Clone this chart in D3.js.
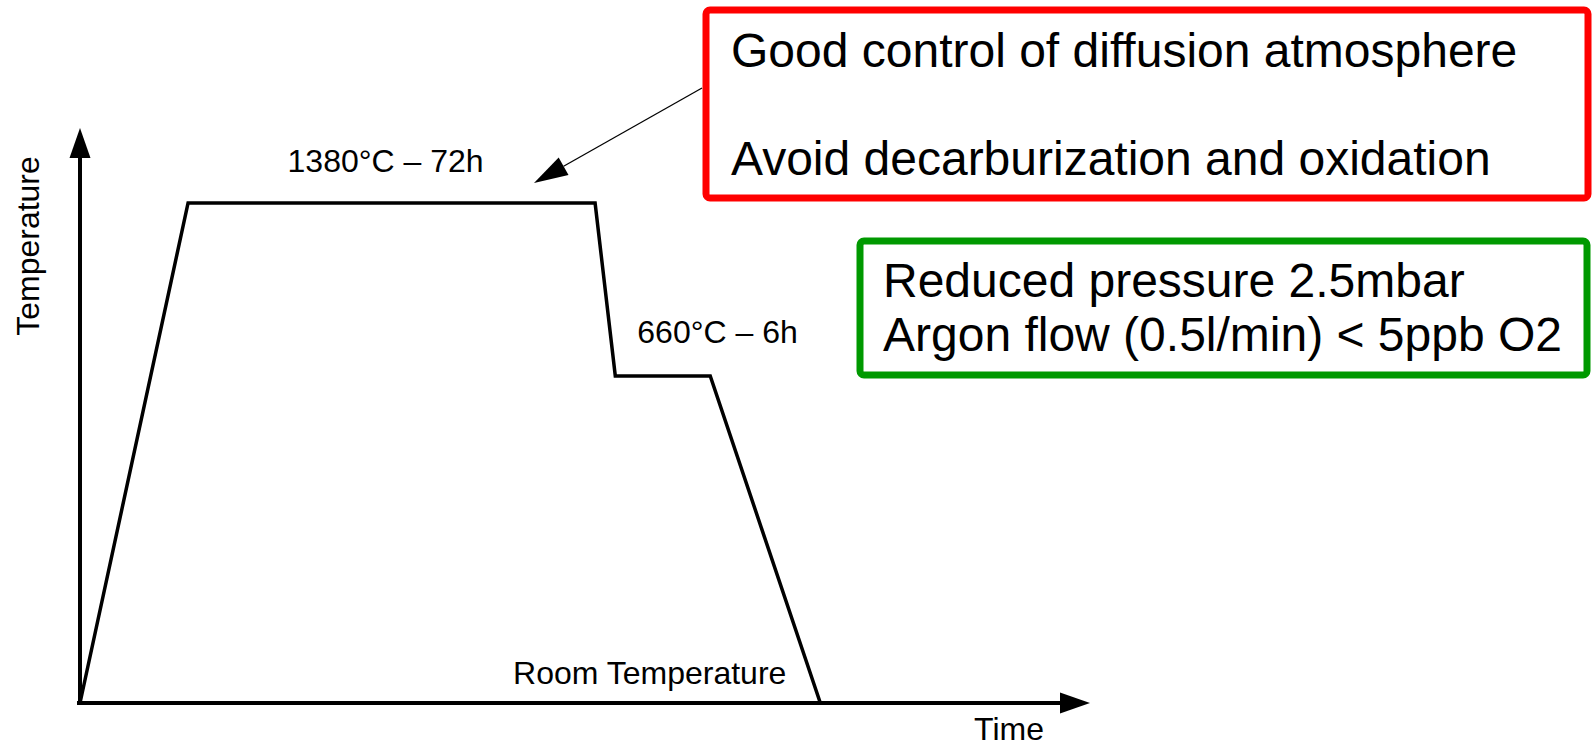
<!DOCTYPE html>
<html>
<head>
<meta charset="utf-8">
<script src="https://cdn.jsdelivr.net/npm/d3@7"></script>
<style>
  body { margin: 0; background: #fff; }
  text { font-family: "Liberation Sans", Arial, sans-serif; fill: #000; }
</style>
</head>
<body>
<div id="chart"></div>
<script>
// heat treatment profile: time is schematic (% of the axis), temperature in °C
const profileTime = [0, 10.7, 51.0, 53.0, 62.4, 73.3];
const profileTemp = [20, 1380, 1380, 660, 660, 20];
const stepLabels = ["1380°C – 72h", "660°C – 6h", "Room Temperature"];
const axisLabels = ["Time", "Temperature"];
const redNotes = ["Good control of diffusion atmosphere", "Avoid decarburization and oxidation"];
const greenNotes = ["Reduced pressure 2.5mbar", "Argon flow (0.5l/min) < 5ppb O2"];

const width = 1596, height = 743;

const svg = d3.select("#chart")
  .append("svg")
    .attr("width", width)
    .attr("height", height);

// schematic scales (temperature axis is not to scale, hence the piecewise domain)
const x = d3.scaleLinear()
  .domain([0, 100])
  .range([80, 1090]);
const y = d3.scaleLinear()
  .domain([20, 660, 1380, 1600])
  .range([703, 376, 203, 128]);

const head = 30, half = 10.5;

// X axis with arrow
svg.append("line")
  .attr("x1", x(0) - 3).attr("y1", y(20))
  .attr("x2", x(100) - head + 2).attr("y2", y(20))
  .attr("stroke", "#000").attr("stroke-width", 4);
svg.append("path")
  .attr("d", `M${x(100)},${y(20)} L${x(100) - head},${y(20) - half} L${x(100) - head},${y(20) + half} Z`)
  .attr("fill", "#000");

// Y axis with arrow
svg.append("line")
  .attr("x1", x(0)).attr("y1", y(20) + 2)
  .attr("x2", x(0)).attr("y2", y(1600) + head - 2)
  .attr("stroke", "#000").attr("stroke-width", 4);
svg.append("path")
  .attr("d", `M${x(0)},${y(1600)} L${x(0) - half},${y(1600) + head} L${x(0) + half},${y(1600) + head} Z`)
  .attr("fill", "#000");

// the temperature profile
const line = d3.line()
  .x(function (d) { return x(d[0]); })
  .y(function (d) { return y(d[1]); });
svg.append("path")
  .datum(d3.zip(profileTime, profileTemp))
  .attr("d", line)
  .attr("fill", "none")
  .attr("stroke", "#000")
  .attr("stroke-width", 3.5)
  .attr("stroke-linejoin", "miter");

// step labels
svg.append("text")
  .attr("x", (x(profileTime[1]) + x(profileTime[2])) / 2 - 6)
  .attr("y", y(1380) - 31)
  .attr("text-anchor", "middle")
  .style("font-size", "32px")
  .text(stepLabels[0]);
svg.append("text")
  .attr("x", x(profileTime[3]) + 22)
  .attr("y", y(660) - 33)
  .style("font-size", "32px")
  .text(stepLabels[1]);
svg.append("text")
  .attr("x", x(profileTime[5]) - 34)
  .attr("y", y(20) - 19)
  .attr("text-anchor", "end")
  .style("font-size", "32px")
  .text(stepLabels[2]);

// axis titles
svg.append("text")
  .attr("x", x(100) - 46)
  .attr("y", 740)
  .attr("text-anchor", "end")
  .style("font-size", "32px")
  .text(axisLabels[0]);
svg.append("text")
  .attr("transform", "translate(39, 246) rotate(-90)")
  .attr("text-anchor", "middle")
  .style("font-size", "32px")
  .text(axisLabels[1]);

// red box
svg.append("rect")
  .attr("x", 706).attr("y", 10)
  .attr("width", 882).attr("height", 188)
  .attr("rx", 4)
  .attr("fill", "#fff")
  .attr("stroke", "#ff0000")
  .attr("stroke-width", 7);
svg.selectAll(".rednote")
  .data(redNotes)
  .join("text")
    .attr("class", "rednote")
    .attr("x", 731)
    .attr("y", function (d, i) { return 67 + i * 108; })
    .style("font-size", "48px")
    .text(d => d);

// green box
svg.append("rect")
  .attr("x", 860).attr("y", 241)
  .attr("width", 727).attr("height", 134)
  .attr("rx", 4)
  .attr("fill", "#fff")
  .attr("stroke", "#009900")
  .attr("stroke-width", 7);
svg.selectAll(".greennote")
  .data(greenNotes)
  .join("text")
    .attr("class", "greennote")
    .attr("x", 883)
    .attr("y", function (d, i) { return 297 + i * 54; })
    .style("font-size", "48px")
    .text(d => d);

// thin arrow from the red box to the 1380°C plateau
const from = [702, 88], tip = [534, y(1380) - 20];
const ang = Math.atan2(tip[1] - from[1], tip[0] - from[0]);
const alen = 34, aw = 10;
const bx = tip[0] - alen * Math.cos(ang), by = tip[1] - alen * Math.sin(ang);
svg.append("line")
  .attr("x1", from[0]).attr("y1", from[1])
  .attr("x2", bx).attr("y2", by)
  .attr("stroke", "#000").attr("stroke-width", 1.3);
svg.append("path")
  .attr("d", `M${tip[0]},${tip[1]}
    L${bx + aw * Math.sin(ang)},${by - aw * Math.cos(ang)}
    L${bx - aw * Math.sin(ang)},${by + aw * Math.cos(ang)} Z`)
  .attr("fill", "#000");
</script>
</body>
</html>
